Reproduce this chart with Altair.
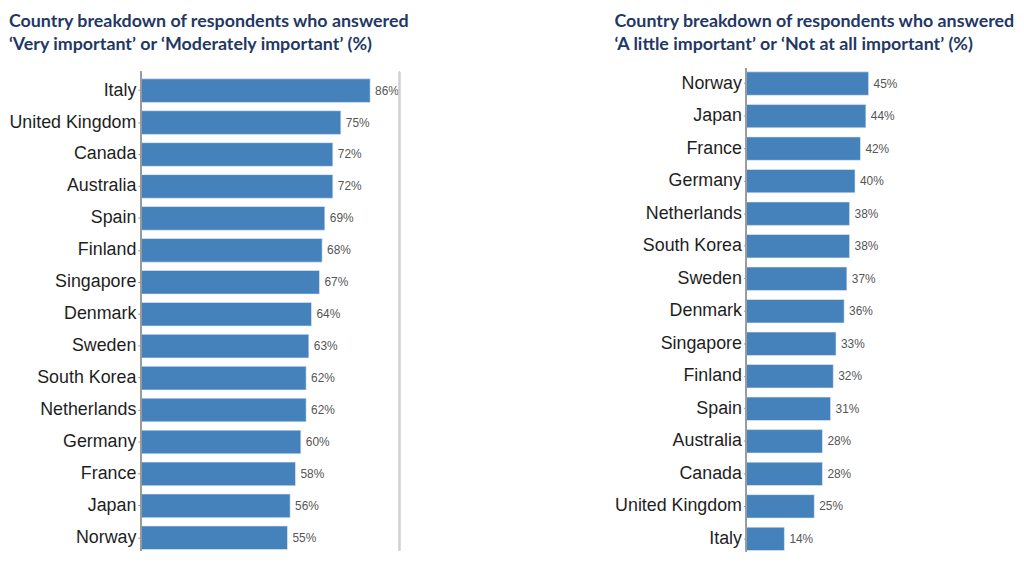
import altair as alt
import pandas as pd

left_countries = ["Italy", "United Kingdom", "Canada", "Australia", "Spain", "Finland",
                  "Singapore", "Denmark", "Sweden", "South Korea", "Netherlands",
                  "Germany", "France", "Japan", "Norway"]
left_values = [86, 75, 72, 72, 69, 68, 67, 64, 63, 62, 62, 60, 58, 56, 55]

right_countries = ["Norway", "Japan", "France", "Germany", "Netherlands", "South Korea",
                   "Sweden", "Denmark", "Singapore", "Finland", "Spain", "Australia",
                   "Canada", "United Kingdom", "Italy"]
right_values = [45, 44, 42, 40, 38, 38, 37, 36, 33, 32, 31, 28, 28, 25, 14]

left_title = ["Country breakdown of respondents who answered",
              "\u2018Very important\u2019 or \u2018Moderately important\u2019 (%)"]
right_title = ["Country breakdown of respondents who answered",
               "\u2018A little important\u2019 or \u2018Not at all important\u2019 (%)"]

BAR = "#4581ba"
NAVY = "#1f3864"
AXIS = "#9a9a9a"


def panel(countries, values, width, height, band, line, xmax, title, p_in, border):
    df = pd.DataFrame({"country": countries, "value": values,
                       "label": [f"{v}%" for v in values]})
    base = alt.Chart(df).encode(
        y=alt.Y("country:N", sort=countries,
                scale=alt.Scale(paddingInner=p_in, paddingOuter=0, range=band, round=False),
                axis=alt.Axis(title=None, labelFontSize=18, labelFont="Liberation Sans",
                              labelColor="#1e1e1e", domain=False,
                              ticks=True, tickSize=3, tickColor=AXIS,
                              labelPadding=2, labelLimit=300)),
        x=alt.X("value:Q", scale=alt.Scale(domain=[0, xmax], nice=False, zero=True), axis=None),
    )
    bars = base.mark_bar(color=BAR, stroke="#e6eef7", strokeWidth=0.6)
    text = base.mark_text(align="left", baseline="middle", dx=5, fontSize=12,
                          font="Liberation Sans", color="#555555").encode(text="label:N")
    axis_line = alt.Chart(df).mark_rule(color=AXIS, strokeWidth=1.2).encode(
        x=alt.value(0), y=alt.value(line[0]), y2=alt.value(line[1]))
    layers = [bars, text, axis_line]
    if border:
        rule = alt.Chart(df).mark_rule(color="#cfcfcf", strokeWidth=1.2).encode(
            x=alt.value(width), y=alt.value(line[0]), y2=alt.value(line[1]))
        layers.append(rule)
    return alt.layer(*layers).properties(
        width=width, height=height,
        title=alt.TitleParams(text=title, anchor="start", font="Lato", fontSize=18,
                              fontWeight="bold", color=NAVY, lineHeight=23, offset=11),
    )


left = panel(left_countries, left_values, 261, 491, [14, 489], [7, 490], 97.0,
             left_title, 0.26, True)
right = panel(right_countries, right_values, 260, 491, [7, 490], [3, 491], 94.9,
              right_title, 0.28, False)

chart = alt.hconcat(left, right, spacing=205).properties(
    padding={"left": 0, "top": 3, "right": 0, "bottom": 0},
    background="white",
).configure_view(stroke=None)

chart.save("out.html", embed_options={"renderer": "svg", "actions": False})
